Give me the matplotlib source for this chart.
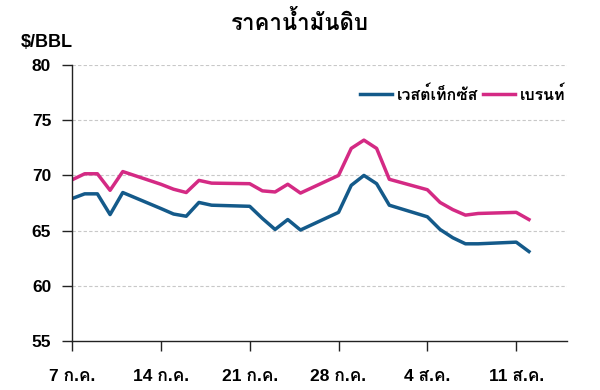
import datetime as dt

import matplotlib
matplotlib.use("Agg")
import matplotlib.pyplot as plt
from matplotlib import font_manager
from fontTools.ttLib import TTFont

# ---------------------------------------------------------------------------
# Data
# ---------------------------------------------------------------------------
dates = [
    "2025-07-07", "2025-07-08", "2025-07-09", "2025-07-10", "2025-07-11",
    "2025-07-14", "2025-07-15", "2025-07-16", "2025-07-17", "2025-07-18",
    "2025-07-21", "2025-07-22", "2025-07-23", "2025-07-24", "2025-07-25",
    "2025-07-28", "2025-07-29", "2025-07-30", "2025-07-31", "2025-08-01",
    "2025-08-04", "2025-08-05", "2025-08-06", "2025-08-07", "2025-08-08",
    "2025-08-11", "2025-08-12",
]
wti = [
    67.90, 68.33, 68.33, 66.45, 68.45,
    67.00, 66.50, 66.30, 67.55, 67.30,
    67.20, 66.10, 65.10, 66.00, 65.05,
    66.65, 69.10, 70.00, 69.25, 67.30,
    66.25, 65.10, 64.35, 63.80, 63.80,
    63.95, 63.10,
]
brent = [
    69.60, 70.15, 70.15, 68.65, 70.35,
    69.20, 68.75, 68.45, 69.55, 69.30,
    69.25, 68.60, 68.50, 69.20, 68.40,
    70.00, 72.45, 73.20, 72.45, 69.65,
    68.70, 67.55, 66.90, 66.40, 66.55,
    66.65, 66.00,
]
tick_dates = ["2025-07-07", "2025-07-14", "2025-07-21", "2025-07-28",
              "2025-08-04", "2025-08-11"]
tick_labels = ["7 ก.ค.", "14 ก.ค.", "21 ก.ค.", "28 ก.ค.", "4 ส.ค.", "11 ส.ค."]
y_ticks = [55, 60, 65, 70, 75, 80]

TITLE = "ราคาน้ำมันดิบ"
UNIT = "$/BBL"
LABEL_WTI = "เวสต์เท็กซัส"
LABEL_BRENT = "เบรนท์"

BLUE = "#145a8a"
PINK = "#d42a84"


def _thai_families():
    """Returns installed families that carry Thai glyphs."""
    found = []
    for f in font_manager.fontManager.ttflist:
        if f.name in found:
            continue
        try:
            cmap = TTFont(f.fname, fontNumber=0, lazy=True).getBestCmap()
        except Exception:
            continue
        if cmap and 0x0E23 in cmap and 0x0E19 in cmap:
            found.append(f.name)
    return found


thai = _thai_families()
# Latin digits in a Helvetica-like face, Thai falls through to the Thai font
plt.rcParams["font.family"] = ["Liberation Sans"] + thai[:1] + ["DejaVu Sans"]

x = [dt.datetime.strptime(d, "%Y-%m-%d") for d in dates]
xt = [dt.datetime.strptime(d, "%Y-%m-%d") for d in tick_dates]

fig = plt.figure(figsize=(6.0, 3.9), dpi=100)
ax = fig.add_axes([0.12, 0.126, 0.825, 0.707])

ax.plot(x, wti, color=BLUE, lw=2.5, label=LABEL_WTI, solid_joinstyle="round")
ax.plot(x, brent, color=PINK, lw=2.5, label=LABEL_BRENT, solid_joinstyle="round")

ax.set_xlim(dt.datetime(2025, 7, 7), dt.datetime(2025, 8, 15))
ax.set_ylim(55, 80)
ax.set_yticks(y_ticks)
ax.set_xticks(xt)
ax.set_xticklabels(tick_labels)

for v in y_ticks[1:]:
    ax.axhline(v, color="#c8c8c8", lw=0.8, ls=(0, (3, 2)), zorder=0)

for s in ["top", "right"]:
    ax.spines[s].set_visible(False)
for s in ["left", "bottom"]:
    ax.spines[s].set_linewidth(1.0)
    ax.spines[s].set_color("#222222")

ax.tick_params(axis="both", direction="out", length=7, width=1.0,
               color="#222222", labelsize=12.5)
ax.tick_params(axis="x", pad=13)
ax.tick_params(axis="y", pad=8)
for lbl in ax.get_xticklabels() + ax.get_yticklabels():
    lbl.set_fontweight("bold")

fig.text(0.5, 0.94, TITLE, ha="center", va="center", fontsize=16,
         fontweight="bold")
fig.text(0.035, 0.89, UNIT, ha="left", va="center", fontsize=13,
         fontweight="bold")

leg = ax.legend(loc="center right", bbox_to_anchor=(1.025, 0.895), ncol=2,
                frameon=False, handlelength=2.0, handletextpad=0.3,
                columnspacing=0.3, prop={"size": 11.5, "weight": "bold"})

fig.savefig("out.png", dpi=100)
